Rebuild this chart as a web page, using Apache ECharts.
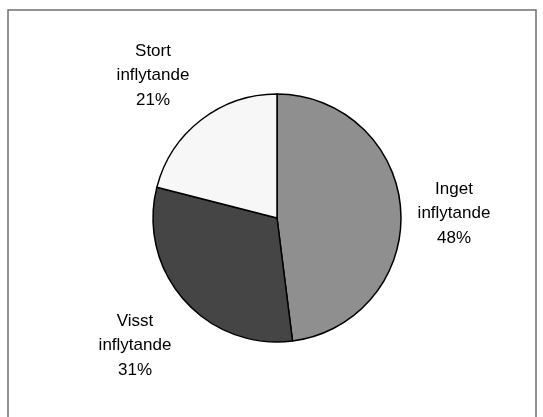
<!DOCTYPE html>
<html>
<head>
<meta charset="utf-8">
<script src="https://cdn.jsdelivr.net/npm/echarts@6/dist/echarts.min.js"></script>
<style>
  html, body { margin: 0; padding: 0; background: #ffffff; }
  #chart { width: 543px; height: 417px; }
</style>
</head>
<body>
<div id="chart"></div>
<script>
// Andel svar per grad av inflytande (procent)
var categories = ['Inget\ninflytande', 'Visst\ninflytande', 'Stort\ninflytande'];
var shares = [48, 31, 21];
var sliceColors = ['#8f8f8f', '#454545', '#f7f7f7'];

// Label anchor points (centre of each text block), in pixels
var labelAnchors = [[454, 213.5], [135, 345.5], [153, 75.5]];

var chart = echarts.init(document.getElementById('chart'), null, { renderer: 'canvas' });

chart.setOption({
  animation: false,
  backgroundColor: '#ffffff',
  graphic: [{
    type: 'rect',
    shape: { x: 8, y: 10, width: 528, height: 420 },
    style: { fill: 'none', stroke: '#6f6f6f', lineWidth: 1.5 },
    silent: true
  }],
  series: [{
    type: 'pie',
    center: [277, 218],
    radius: 124,
    startAngle: 90,
    clockwise: true,
    data: categories.map(function (name, i) {
      return { name: name, value: shares[i], itemStyle: { color: sliceColors[i] } };
    }),
    itemStyle: { borderColor: '#000000', borderWidth: 1.5 },
    label: {
      show: true,
      position: 'outside',
      formatter: '{b}\n{d}%',
      fontFamily: '"Liberation Sans", Arial, sans-serif',
      fontSize: 17,
      lineHeight: 24.5,
      color: '#000000',
      align: 'center'
    },
    labelLine: { show: false },
    labelLayout: function (params) {
      var p = labelAnchors[params.dataIndex];
      return { x: p[0], y: p[1], align: 'center', verticalAlign: 'middle' };
    },
    emphasis: { disabled: true }
  }]
});
</script>
</body>
</html>
